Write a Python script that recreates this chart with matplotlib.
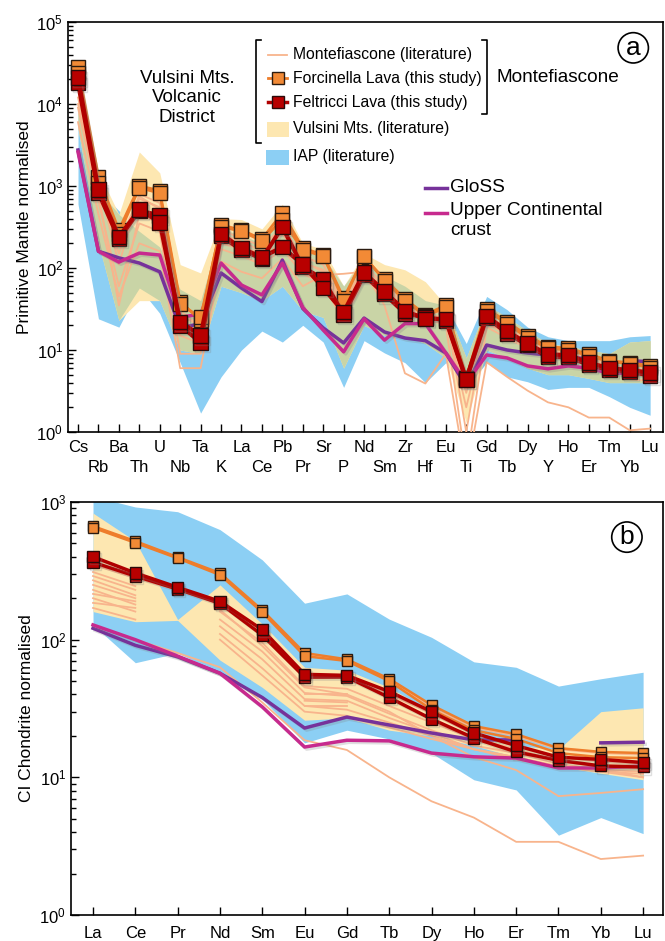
import numpy as np
import matplotlib
matplotlib.use('Agg')
import matplotlib.pyplot as plt
import matplotlib.patheffects as pe
from matplotlib.lines import Line2D
from matplotlib.patches import Rectangle

plt.rcParams['font.family'] = ['Liberation Sans', 'DejaVu Sans']
plt.rcParams['mathtext.fontset'] = 'custom'
plt.rcParams['mathtext.rm'] = 'Liberation Sans'
plt.rcParams['mathtext.it'] = 'Liberation Sans:italic'
plt.rcParams['mathtext.bf'] = 'Liberation Sans:bold'

nan = np.nan

#%% data - panel a (primitive mantle normalised)
elem_a = ['Cs', 'Rb', 'Ba', 'Th', 'U', 'Nb', 'Ta', 'K', 'La', 'Ce', 'Pb', 'Pr', 'Sr', 'P', 'Nd',
          'Sm', 'Zr', 'Hf', 'Eu', 'Ti', 'Gd', 'Tb', 'Dy', 'Y', 'Ho', 'Er', 'Tm', 'Yb', 'Lu']

forc_a1 = [28000, 1290, 290, 1000, 880, 39, 23, 335, 290, 225, 470, 175, 145, 43, 135, 73, 42, 27, 35, 4.5, 32, 22, 15, 11, 10.5, 8.9, 7.4, 7.0, 6.4]
forc_a2 = [24000, 1100, 260, 950, 820, 36, 25, 320, 280, 215, 390, 165, 140, 40, 140, 70, 40, 26, 33, 4.6, 30, 21, 14, 10.5, 10, 8.5, 7.2, 6.8, 6.1]
felt_a1 = [18000, 820, 225, 500, 440, 20, 12.3, 245, 166, 130, 316, 103, 73, 27, 82, 48, 28, 25, 23, 4.3, 25, 16, 11.5, 8.2, 8.2, 6.6, 5.7, 5.4, 4.9]
felt_a2 = [21000, 900, 240, 520, 360, 22, 15, 260, 175, 135, 180, 110, 57, 29, 88, 52, 30, 24, 24, 4.4, 26, 17, 12, 8.8, 8.7, 7.0, 6.0, 5.7, 5.3]

lit_a1 = [24000, 1200, 280, 1000, 850, 38, 24, 330, 290, 220, 450, 170, 140, 42, 135, 72, 40, 27, 34, 4.6, 31, 21, 14.5, 10.5, 10, 8.6, 7.2, 6.8, 6.2]
lit_a2 = [16000, 950, 150, 700, 550, 24, 16, 260, 210, 160, 260, 115, 95, 32, 100, 58, 36, 26, 26, 3.8, 25, 18, 12.5, 9.5, 9, 7.5, 6.3, 6.0, 5.6]
lit_a3 = [9000, 650, 60, 350, 280, 9, 9, 170, 140, 110, 170, 85, 65, 22, 75, 45, 30, 24, 20, 0.4, 19, 14, 10.5, 8.2, 7.8, 6.8, 5.8, 5.2, 5.0]
lit_a4 = [6000, 450, 45, 200, 160, 6, 6, 120, 90, 75, 130, 60, 82, 85, 90, 35, 5.2, 3.9, 9, 0.3, 7.1, 4.7, 3.2, 2.3, 2.0, 1.5, 1.5, 1.05, 1.1]
lit_a5 = [12000, 1000, 200, 750, 520, 30, 19, 290, 230, 185, 310, 140, 110, 36, 110, 62, 38, 27, 30, 1.0, 27, 19, 13, 10, 9.2, 8, 6.6, 4.4, 4.2]
lit_a6 = [20000, 1100, 110, 800, 620, 26, 20, 200, 170, 135, 210, 100, 72, 28, 82, 50, 34, 25, 22, 3.0, 21, 15.5, 11, 8.6, 8.2, 7.1, 6.2, 5.8, 5.5]
lit_a7 = [10000, 800, 35, 450, 350, 15, 12, 220, 180, 150, 280, 120, 90, 30, 95, 55, 33, 23, 24, 2.0, 22, 16, 11.5, 9, 8.5, 7.3, 6.4, 6.0, 5.7]

gloss_a = [2750, 160, 133, 115, 90, 18.6, 21, 87, 57, 39, 125, 32, 18.6, 12.2, 24.5, 16.6, 14, 13, 9.2, 3.6, 11.5, 10, 9.2, 8.7, 8.3, 7.7, nan, 7.4, 7.2]
ucc_a = [2600, 160, 118, 152, 144, 25, 27.5, 115, 62, 47, 115, 33, 17.5, 9.5, 24, 13.2, 21, 21, 9.2, 4.0, 8.7, 8.0, 6.4, 5.9, 6.4, 6.0, 5.2, 5.2, 5.2]

vulsini_a_hi = [30000, 1500, 450, 2600, 1450, 110, 87, 400, 390, 300, 600, 200, 170, 60, 150, 110, 95, 68, 35, 8, 35, 25, 17, 12, 11, 10, 9, 12.5, 13]
vulsini_a_lo = [5000, 200, 23, 40, 40, 10, 9, 60, 50, 40, 60, 30, 25, 6, 20, 15, 15, 12, 8, 1.3, 10, 8, 6, 5, 5, 4.5, 4, 4, 4]
iap_a_hi = [8000, 900, 500, 280, 180, 55, 40, 300, 250, 200, 500, 170, 140, 60, 130, 80, 60, 40, 35, 12, 45, 31, 19, 14.5, 13, 13, 13, 14.5, 15]
iap_a_lo = [600, 24, 19, 57, 28, 7, 1.7, 4.7, 10, 17, 12.5, 20, 12.5, 3.5, 13, 9.2, 7, 4, 7, 3.5, 7, 4.7, 4.1, 3.3, 3.5, 3.5, 2.7, 2.0, 1.6]

#%% data - panel b (CI chondrite normalised)
elem_b = ['La', 'Ce', 'Pr', 'Nd', 'Sm', 'Eu', 'Gd', 'Tb', 'Dy', 'Ho', 'Er', 'Tm', 'Yb', 'Lu']

forc_b1 = [668, 520, 398, 305, 164, 80, 72, 52, 33.5, 23.6, 20.6, 16.3, 15.3, 15.0]
forc_b2 = [650, 505, 390, 295, 158, 76, 70, 50, 31, 22, 19, 15, 14, 13.8]
felt_b1 = [365, 290, 233, 184, 108, 53.5, 53.5, 38, 26.5, 19.3, 15.3, 13.3, 12.1, 11.9]
felt_b2 = [400, 305, 240, 190, 118, 56, 55, 42, 30, 21, 17, 14, 13.5, 12.8]

lit_b1 = [350, 280, 230, 180, 112, 56, 54, 40, 29, 20.5, 17, 14, 13, 12.5]
lit_b2 = [310, 245, nan, 160, 95, 46, 44, 33, 25, 19, 16, 13, 12, 11.6]
lit_b3 = [270, 210, nan, 140, 82, 41, 39, 29, 22, 17, 15, 12.5, 11.3, 11]
lit_b4 = [230, 180, nan, 125, 72, 37, 36, 27, 21, 16, 14, 12, 11, 10.6]
lit_b5 = [200, 160, nan, 110, 62, 33, 31, 25, 20, 16, 14, 12, 11, 10]
lit_b6 = [128, 100, 80, 63, 35, 18.6, 15.8, 10, 6.7, 5.1, 3.4, 3.4, 2.55, 2.7]
lit_b7 = [290, 230, nan, 165, 90, 45, 40, 30, 20, 14, 11.3, 7.3, 7.7, 8.2]
lit_b8 = [170, 140, nan, 100, 55, 30, 28, 23, 19, 16, 13.5, 12, 11.5, 10]
lit_b9 = [660, 515, 395, 300, 160, 78, 71, 51, 32, 23, 20, 16, 15, 14.6]
lit_b10 = [250, 200, nan, nan, nan, nan, nan, nan, nan, nan, nan, nan, nan, nan]
lit_b11 = [215, 190, nan, nan, nan, nan, nan, nan, nan, nan, nan, nan, nan, nan]
lit_b12 = [185, 170, nan, nan, nan, nan, nan, nan, nan, nan, nan, nan, nan, nan]
lit_b13 = [nan, nan, nan, nan, nan, 40, 40, nan, nan, nan, nan, nan, nan, nan]
lit_b14 = [nan, nan, nan, nan, nan, 36, 35, nan, nan, nan, nan, nan, nan, nan]
lit_b15 = [nan, nan, nan, nan, nan, 33, 33, nan, nan, nan, nan, nan, nan, nan]

gloss_b = [121, 91, 75, 57, 38, 22.8, 27.4, 24, 21, 18.7, 18.7, nan, 17.8, 18]
ucc_b = [128, 100, 76, 57, 32.5, 16.6, 18.6, 18.4, 15, 14.1, 13.8, 11.7, 11.7, 12.1]

vulsini_b_hi = [830, 520, 140, 250, 130, 63, 60, 45, 30, 20, 17, 16, 30, 32]
vulsini_b_lo = [160, 135, 138, 71, 45, 26, 27, 22, 20, 17, 14, 12, 10.7, 9.6]
iap_b_hi = [1100, 920, 850, 630, 380, 184, 215, 141, 104, 69, 63, 46, 52, 58]
iap_b_lo = [128, 68, 80, 57, 37, 17.8, 22, 19, 15, 9.6, 8.1, 3.8, 5.1, 3.9]

#%% colours
c_lit = '#F8B48C'
c_forc = '#EE7D2B'
c_forc_face = '#F28A36'
c_felt = '#B00000'
c_gloss = '#76329A'
c_ucc = '#C72A8E'
c_vuls = '#FDE7B1'
c_iap = '#8CCFF4'
c_green = '#C9D4A6'

shadow = [pe.SimpleLineShadow(offset=(1.5, -1.5), shadow_color='gray', alpha=0.25), pe.Normal()]

W, H = 665, 941
def fx(x):
    return x / W
def fy(y):
    return 1 - y / H

fig = plt.figure(figsize=(6.65, 9.41), dpi=100)
ax_a = fig.add_axes([fx(68), fy(432), 595 / W, 410 / H])
ax_b = fig.add_axes([fx(71), fy(915), 592 / W, 413 / H])

#%% panel a
xa = np.arange(len(elem_a))
ax_a.fill_between(xa, iap_a_lo, iap_a_hi, color=c_iap, lw=0, zorder=1)
ax_a.fill_between(xa, vulsini_a_lo, vulsini_a_hi, color=c_vuls, lw=0, zorder=2)
ov_lo = np.maximum(vulsini_a_lo, iap_a_lo)
ov_hi = np.minimum(vulsini_a_hi, iap_a_hi)
ax_a.fill_between(xa, ov_lo, ov_hi, where=ov_hi > ov_lo, interpolate=True, color=c_green, lw=0, zorder=3)
for v in [lit_a1, lit_a2, lit_a3, lit_a4, lit_a5, lit_a6, lit_a7]:
    ax_a.plot(xa, v, color=c_lit, lw=1.3, zorder=4)
ax_a.plot(xa, gloss_a, color=c_gloss, lw=2.5, zorder=5, path_effects=shadow)
ax_a.plot(xa, ucc_a, color=c_ucc, lw=2.5, zorder=5, path_effects=shadow)
for v in [forc_a1, forc_a2]:
    ax_a.plot(xa, v, color=c_forc, lw=2, marker='s', ms=10, mfc=c_forc_face, mec='#2B1B10', mew=1, zorder=6)
for v in [felt_a1, felt_a2]:
    ax_a.plot(xa, v, color=c_felt, lw=3, marker='s', ms=10.5, mfc='#B80000', mec='#2A0A0A', mew=1, zorder=7,
              path_effects=shadow)

ax_a.set_yscale('log')
ax_a.set_ylim(1, 1e5)
ax_a.set_xlim(-0.49, 28.63)
# two rows of element labels: even ones on major ticks, odd ones on minor ticks
ax_a.set_xticks(xa[::2])
ax_a.set_xticklabels(elem_a[::2])
ax_a.set_xticks(xa[1::2], minor=True)
ax_a.set_xticklabels(elem_a[1::2], minor=True)
ax_a.tick_params(axis='x', which='major', direction='in', length=6, width=1, labelsize=12, pad=6)
ax_a.tick_params(axis='x', which='minor', direction='in', length=6, width=1, labelsize=12, pad=20)
ax_a.set_ylabel('Primitive Mantle normalised', fontsize=12.5, labelpad=3)
ax_a.text(0.95, 0.937, 'a', transform=ax_a.transAxes, ha='center', va='center', fontsize=19,
          bbox=dict(boxstyle='circle,pad=0.12', fc='white', ec='black', lw=1.2), zorder=10)

#%% panel b
xb = np.arange(len(elem_b))
ax_b.fill_between(xb, iap_b_lo, iap_b_hi, color=c_iap, lw=0, zorder=1)
ax_b.fill_between(xb, vulsini_b_lo, vulsini_b_hi, color=c_vuls, lw=0, zorder=2)
for v in [lit_b1, lit_b2, lit_b3, lit_b4, lit_b5, lit_b6, lit_b7, lit_b8, lit_b9,
          lit_b10, lit_b11, lit_b12, lit_b13, lit_b14, lit_b15]:
    ax_b.plot(xb, v, color=c_lit, lw=1.3, zorder=4)
ax_b.plot(xb, gloss_b, color=c_gloss, lw=2.5, zorder=5, path_effects=shadow)
ax_b.plot(xb, ucc_b, color=c_ucc, lw=2.5, zorder=5, path_effects=shadow)
for v in [forc_b1, forc_b2]:
    ax_b.plot(xb, v, color=c_forc, lw=1.8, marker='s', ms=7.5, mfc=c_forc_face, mec='#2B1B10', mew=1, zorder=6)
for v in [felt_b1, felt_b2]:
    ax_b.plot(xb, v, color=c_felt, lw=2.5, marker='s', ms=8, mfc='#B80000', mec='#2A0A0A', mew=1, zorder=7,
              path_effects=shadow)

ax_b.set_yscale('log')
ax_b.set_ylim(1, 1e3)
ax_b.set_xlim(-0.52, 13.47)
ax_b.set_xticks(xb)
ax_b.set_xticklabels(elem_b)
ax_b.tick_params(axis='x', which='major', direction='in', length=6, width=1, labelsize=12, pad=8)
ax_b.set_ylabel('CI Chondrite normalised', fontsize=12.5, labelpad=4)
ax_b.text(0.939, 0.915, 'b', transform=ax_b.transAxes, ha='center', va='center', fontsize=19,
          bbox=dict(boxstyle='circle,pad=0.12', fc='white', ec='black', lw=1.2), zorder=10)

for ax in [ax_a, ax_b]:
    ax.tick_params(axis='y', which='major', direction='in', length=6, width=1, labelsize=12)
    ax.tick_params(axis='y', which='minor', direction='in', length=3.5, width=1)
    for s in ax.spines.values():
        s.set_linewidth(1.2)

#%% custom legend (panel a)
fs_leg = 11.3
rows = [(55, 'Montefiascone (literature)'), (78, 'Forcinella Lava (this study)'),
        (102, 'Feltricci Lava (this study)'), (129, 'Vulsini Mts. (literature)'), (156, 'IAP (literature)')]
for y, lab in rows:
    fig.text(fx(293), fy(y), lab, fontsize=fs_leg, va='center', ha='left')
fig.add_artist(Line2D([fx(268), fx(287)], [fy(55), fy(55)], color=c_lit, lw=1.3))
fig.add_artist(Line2D([fx(268), fx(287)], [fy(78), fy(78)], color=c_forc, lw=2))
fig.add_artist(Line2D([fx(278)], [fy(78)], marker='s', ms=9, mfc=c_forc_face, mec='#2B1B10', mew=1))
fig.add_artist(Line2D([fx(268), fx(287)], [fy(102), fy(102)], color=c_felt, lw=2.5))
fig.add_artist(Line2D([fx(278)], [fy(102)], marker='s', ms=9, mfc='#B80000', mec='#2A0A0A', mew=1))
fig.add_artist(Rectangle((fx(267), fy(137)), 22 / W, 15 / H, transform=fig.transFigure, color=c_vuls, lw=0))
fig.add_artist(Rectangle((fx(266), fy(165)), 23 / W, 15 / H, transform=fig.transFigure, color=c_iap, lw=0))
# brackets
fig.add_artist(Line2D([fx(261), fx(256), fx(256), fx(261)], [fy(40), fy(40), fy(143), fy(143)], color='black', lw=1.2))
fig.add_artist(Line2D([fx(482), fx(487), fx(487), fx(482)], [fy(40), fy(40), fy(114), fy(114)], color='black', lw=1.2))
fig.text(fx(497), fy(78), 'Montefiascone', fontsize=13.7, va='center', ha='left')
fig.text(fx(187), fy(98), 'Vulsini Mts.\nVolcanic\nDistrict', fontsize=13.5, va='center', ha='center',
         linespacing=1.2)
fig.add_artist(Line2D([fx(425), fx(447)], [fy(188), fy(188)], color=c_gloss, lw=2.5))
fig.text(fx(450), fy(188), 'GloSS', fontsize=13.7, va='center', ha='left')
fig.add_artist(Line2D([fx(425), fx(447)], [fy(213), fy(213)], color=c_ucc, lw=2.5))
fig.text(fx(450), fy(202), 'Upper Continental\ncrust', fontsize=13.7, va='top', ha='left', linespacing=1.2)

fig.savefig('out.png', dpi=100)
